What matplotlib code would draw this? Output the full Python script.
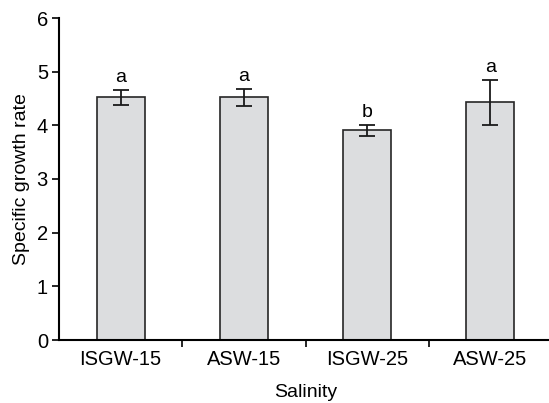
import matplotlib
matplotlib.use("Agg")
import matplotlib.pyplot as plt
from matplotlib.ticker import FixedLocator

categories = ["ISGW-15", "ASW-15", "ISGW-25", "ASW-25"]
values = [4.52, 4.52, 3.91, 4.43]
errors = [0.14, 0.16, 0.10, 0.42]
letters = ["a", "a", "b", "a"]

plt.rcParams['font.family'] = ['Liberation Sans', 'DejaVu Sans']

fig = plt.figure(figsize=(5.49, 4.03), dpi=100)
ax = fig.add_axes([59/549, (403-340)/403, (552-59)/549, (340-18)/403])

x = list(range(len(categories)))
ax.bar(x, values, width=0.39, color="#dcdddf", edgecolor="#262626", linewidth=1.2, zorder=2)
ax.errorbar(x, values, yerr=errors, fmt="none", ecolor="#1a1a1a", elinewidth=1.3,
            capsize=6, capthick=1.3, zorder=3)
for xi, v, e, t in zip(x, values, errors, letters):
    ax.annotate(t, (xi, v + e), xytext=(0, 3), textcoords="offset points",
                ha="center", va="bottom", fontsize=14)

ax.set_xlim(-0.5, 3.5)
ax.set_ylim(0, 6)
ax.set_yticks([0, 1, 2, 3, 4, 5, 6])
ax.set_xticks(x)
ax.set_xticklabels(categories)
ax.xaxis.set_minor_locator(FixedLocator([0.5, 1.5, 2.5]))
ax.tick_params(axis="x", which="major", length=0, pad=7, labelsize=14.5)
ax.tick_params(axis="x", which="minor", length=5, width=1.2, direction="out")
ax.tick_params(axis="y", length=5, width=1.2, pad=3, labelsize=14.5)

for s in ["top", "right"]:
    ax.spines[s].set_visible(False)
for s in ["left", "bottom"]:
    ax.spines[s].set_linewidth(1.5)

ax.set_xlabel("Salinity", fontsize=14, labelpad=11)
ax.set_ylabel("Specific growth rate", fontsize=14, labelpad=5)

fig.savefig("out.png", dpi=100)
